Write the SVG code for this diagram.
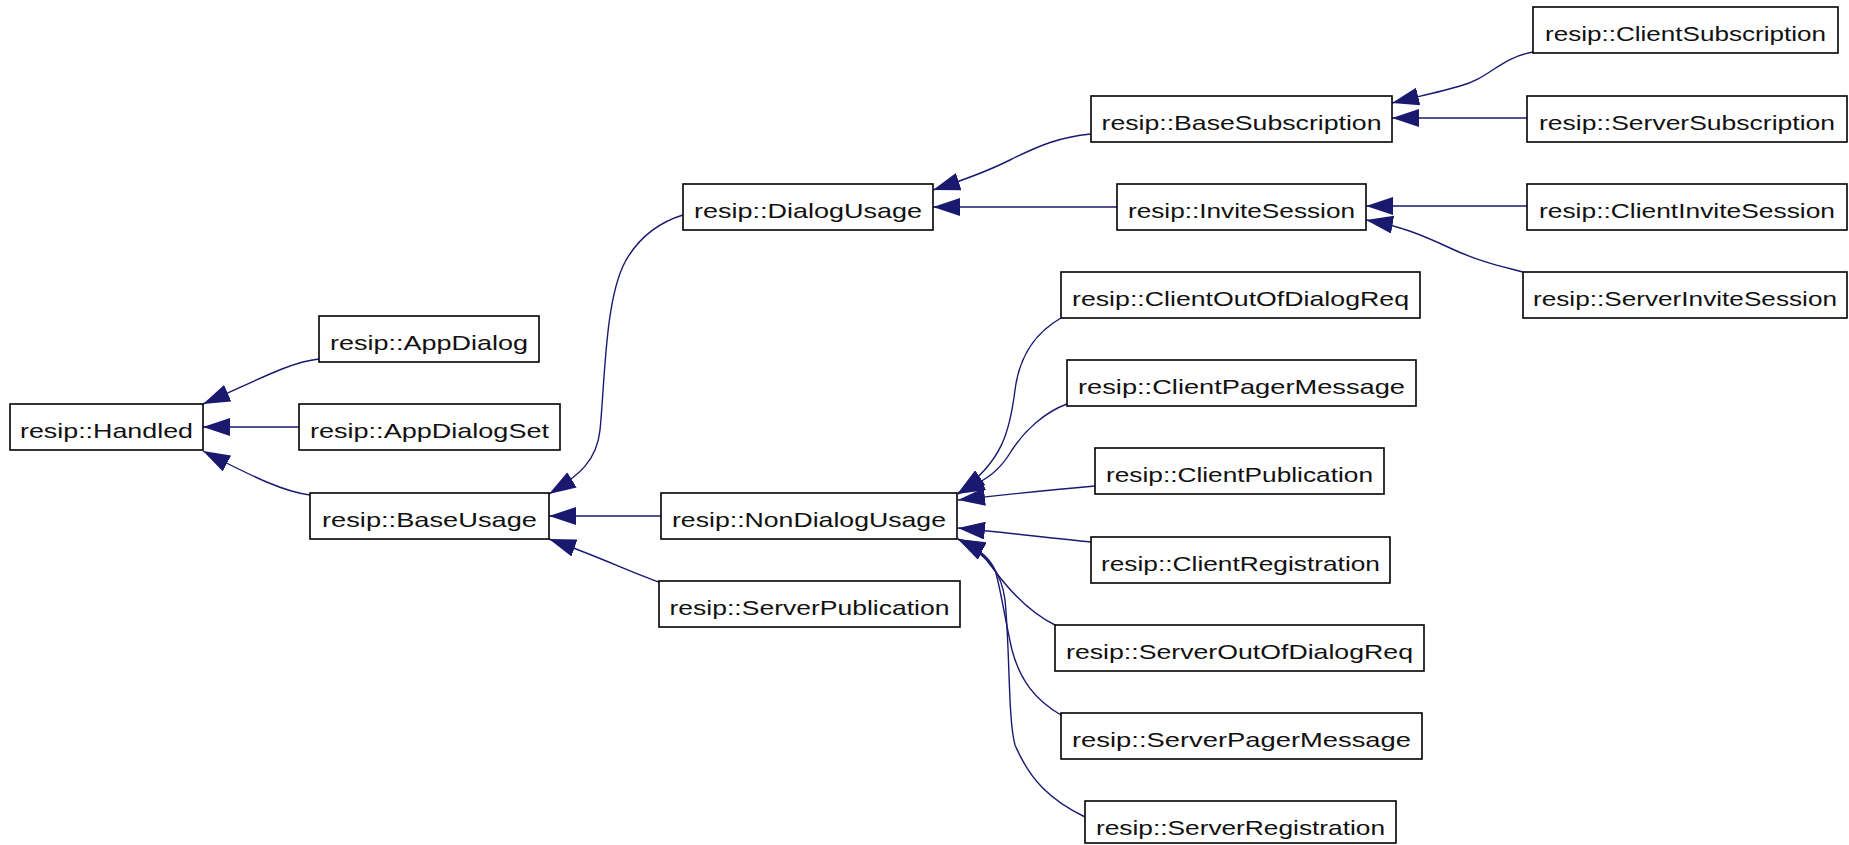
<svg xmlns="http://www.w3.org/2000/svg" width="1849" height="845" viewBox="0 0 1849 845">
<style>
.box{fill:#fff;stroke:#000;stroke-width:1.6}
.lbl{font-family:"Liberation Sans",Arial,Helvetica,sans-serif;font-size:21px;fill:#111;text-anchor:middle}
.edge{fill:none;stroke:#191970;stroke-width:1.4;marker-end:url(#arr)}
</style>
<defs>
<marker id="arr" viewBox="0 0 27 18" refX="27" refY="9" markerWidth="27" markerHeight="18" markerUnits="userSpaceOnUse" orient="auto">
<path d="M0,0 L27,9 L0,18 z" fill="#191970"/>
</marker>
</defs>
<rect width="1849" height="845" fill="#fff"/>
<g id="connectors">
<path class="edge" d="M319,359 C290,362 258,380 203,404"/>
<path class="edge" d="M299,427 L203,427"/>
<path class="edge" d="M310,495 C285,492 255,478 203,451"/>
<path class="edge" d="M683,215 C660,222 640,235 625,262 C605,300 605,380 600,430 C597,460 580,475 549,494"/>
<path class="edge" d="M661,516 L549,516"/>
<path class="edge" d="M659,582 C630,572 600,557 549,539"/>
<path class="edge" d="M1091,134 C1060,137 1040,145 1010,160 C990,170 970,178 933,190"/>
<path class="edge" d="M1117,207 L933,207"/>
<path class="edge" d="M1533,52 C1500,58 1490,78 1460,86 C1440,92 1420,96 1392,103"/>
<path class="edge" d="M1527,118 L1392,118"/>
<path class="edge" d="M1527,206 L1366,206"/>
<path class="edge" d="M1523,272 C1500,266 1480,262 1450,248 C1420,234 1400,226 1366,220"/>
<path class="edge" d="M1061,318 C1040,330 1020,350 1015,390 C1010,430 1003,462 958,493"/>
<path class="edge" d="M1067,404 C1045,412 1025,430 1012,450 C1000,470 990,478 958,494"/>
<path class="edge" d="M1095,486 C1060,489 1010,494 958,500"/>
<path class="edge" d="M1091,542 C1050,538 1010,533 958,528"/>
<path class="edge" d="M1055,625 C1025,610 1005,585 992,567 C985,557 975,548 958,539"/>
<path class="edge" d="M1061,715 C1035,700 1020,680 1012,650 C1005,620 1000,585 995,570 C988,555 975,547 958,539"/>
<path class="edge" d="M1085,817 C1050,800 1030,780 1015,745 C1008,720 1010,650 1005,600 C1002,575 990,555 958,539"/>
</g>
<g id="Handled"><rect class="box" x="10" y="404" width="193" height="46"/><text class="lbl" x="106.5" y="437.5" textLength="173" lengthAdjust="spacingAndGlyphs">resip::Handled</text></g>
<g id="AppDialog"><rect class="box" x="319" y="316" width="220" height="46"/><text class="lbl" x="429" y="349.5" textLength="198" lengthAdjust="spacingAndGlyphs">resip::AppDialog</text></g>
<g id="AppDialogSet"><rect class="box" x="299" y="404" width="261" height="46"/><text class="lbl" x="429.5" y="437.5" textLength="239" lengthAdjust="spacingAndGlyphs">resip::AppDialogSet</text></g>
<g id="BaseUsage"><rect class="box" x="310" y="493" width="239" height="46"/><text class="lbl" x="429.5" y="526.5" textLength="215" lengthAdjust="spacingAndGlyphs">resip::BaseUsage</text></g>
<g id="DialogUsage"><rect class="box" x="683" y="184" width="250" height="46"/><text class="lbl" x="808" y="217.5" textLength="228" lengthAdjust="spacingAndGlyphs">resip::DialogUsage</text></g>
<g id="NonDialogUsage"><rect class="box" x="661" y="493" width="296" height="46"/><text class="lbl" x="809" y="526.5" textLength="274" lengthAdjust="spacingAndGlyphs">resip::NonDialogUsage</text></g>
<g id="ServerPublication"><rect class="box" x="659" y="581" width="301" height="46"/><text class="lbl" x="809.5" y="614.5" textLength="280" lengthAdjust="spacingAndGlyphs">resip::ServerPublication</text></g>
<g id="BaseSubscription"><rect class="box" x="1091" y="96" width="301" height="46"/><text class="lbl" x="1241.5" y="129.5" textLength="280" lengthAdjust="spacingAndGlyphs">resip::BaseSubscription</text></g>
<g id="InviteSession"><rect class="box" x="1117" y="184" width="249" height="46"/><text class="lbl" x="1241.5" y="217.5" textLength="227" lengthAdjust="spacingAndGlyphs">resip::InviteSession</text></g>
<g id="ClientSubscription"><rect class="box" x="1533" y="7" width="305" height="46"/><text class="lbl" x="1685.5" y="40.5" textLength="281" lengthAdjust="spacingAndGlyphs">resip::ClientSubscription</text></g>
<g id="ServerSubscription"><rect class="box" x="1527" y="96" width="320" height="46"/><text class="lbl" x="1687" y="129.5" textLength="296" lengthAdjust="spacingAndGlyphs">resip::ServerSubscription</text></g>
<g id="ClientInviteSession"><rect class="box" x="1527" y="184" width="320" height="46"/><text class="lbl" x="1687" y="217.5" textLength="296" lengthAdjust="spacingAndGlyphs">resip::ClientInviteSession</text></g>
<g id="ServerInviteSession"><rect class="box" x="1523" y="272" width="324" height="46"/><text class="lbl" x="1685" y="305.5" textLength="304" lengthAdjust="spacingAndGlyphs">resip::ServerInviteSession</text></g>
<g id="ClientOutOfDialogReq"><rect class="box" x="1061" y="272" width="359" height="46"/><text class="lbl" x="1240.5" y="305.5" textLength="337" lengthAdjust="spacingAndGlyphs">resip::ClientOutOfDialogReq</text></g>
<g id="ClientPagerMessage"><rect class="box" x="1067" y="360" width="349" height="46"/><text class="lbl" x="1241.5" y="393.5" textLength="327" lengthAdjust="spacingAndGlyphs">resip::ClientPagerMessage</text></g>
<g id="ClientPublication"><rect class="box" x="1095" y="448" width="289" height="46"/><text class="lbl" x="1239.5" y="481.5" textLength="267" lengthAdjust="spacingAndGlyphs">resip::ClientPublication</text></g>
<g id="ClientRegistration"><rect class="box" x="1091" y="537" width="299" height="46"/><text class="lbl" x="1240.5" y="570.5" textLength="279" lengthAdjust="spacingAndGlyphs">resip::ClientRegistration</text></g>
<g id="ServerOutOfDialogReq"><rect class="box" x="1055" y="625" width="369" height="46"/><text class="lbl" x="1239.5" y="658.5" textLength="347" lengthAdjust="spacingAndGlyphs">resip::ServerOutOfDialogReq</text></g>
<g id="ServerPagerMessage"><rect class="box" x="1061" y="713" width="361" height="46"/><text class="lbl" x="1241.5" y="746.5" textLength="339" lengthAdjust="spacingAndGlyphs">resip::ServerPagerMessage</text></g>
<g id="ServerRegistration"><rect class="box" x="1085" y="801" width="311" height="42"/><text class="lbl" x="1240.5" y="834.5" textLength="289" lengthAdjust="spacingAndGlyphs">resip::ServerRegistration</text></g>
</svg>
